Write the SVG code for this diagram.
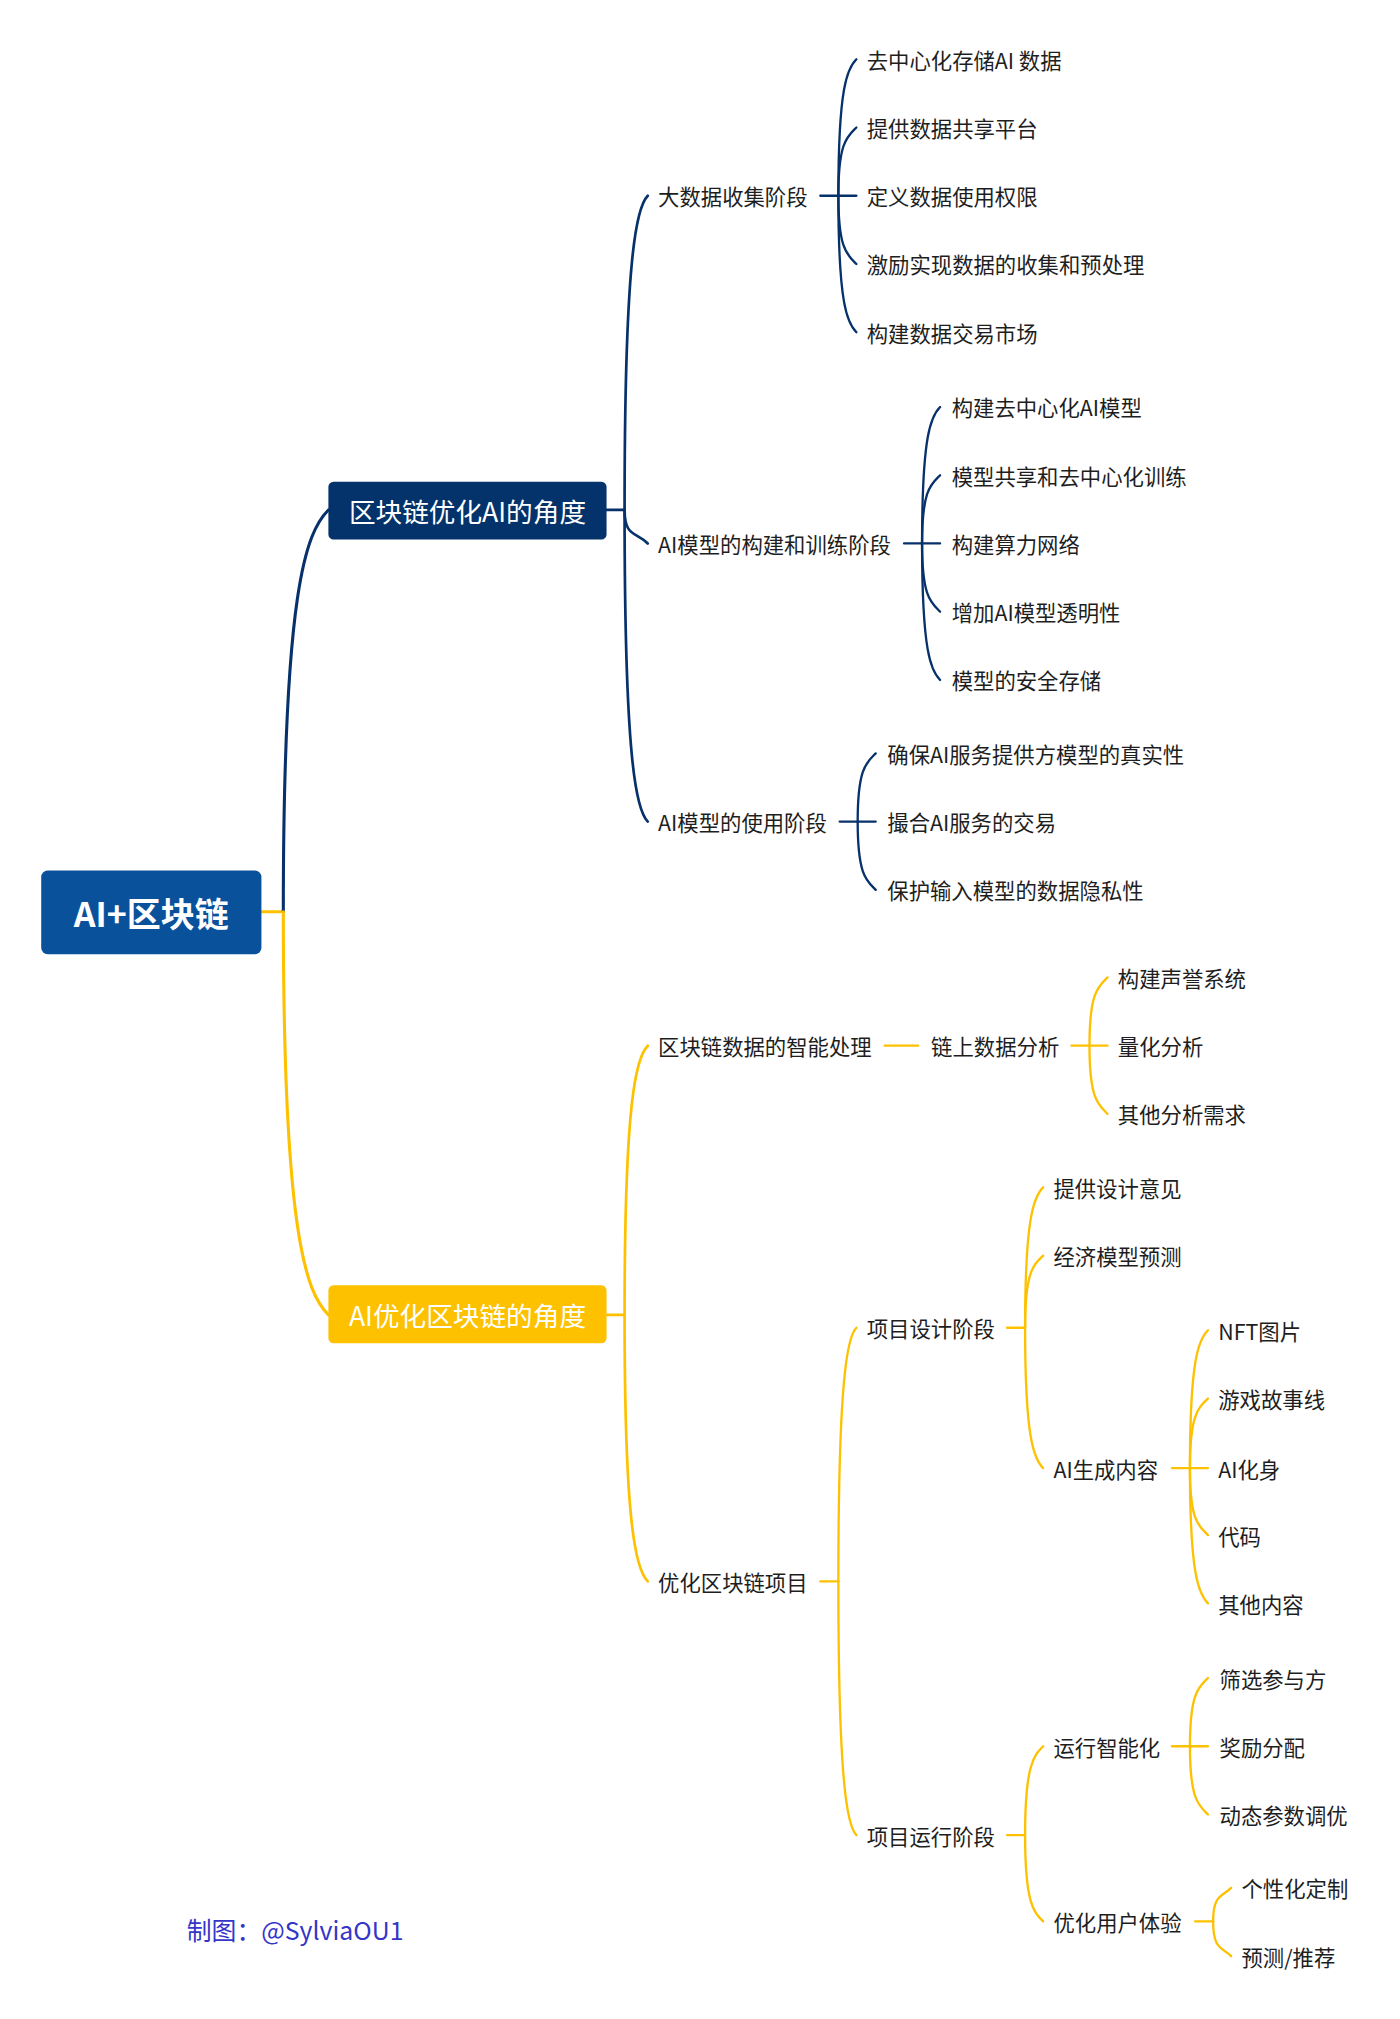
<svg xmlns="http://www.w3.org/2000/svg" width="1400" height="2019" viewBox="0 0 1400 2019">
<style>
.t{font-family:"Noto Sans CJK SC","Noto Sans",sans-serif;font-size:16.6px;fill:#1e1e1e;dominant-baseline:central}
.b{font-family:"Noto Sans CJK SC","Noto Sans",sans-serif;font-size:20.7px;fill:#ffffff;dominant-baseline:central;text-anchor:middle}
.r{font-family:"Noto Sans CJK SC","Noto Sans",sans-serif;font-size:26.4px;font-weight:bold;fill:#ffffff;dominant-baseline:central;text-anchor:middle}
.n{fill:none;stroke:#07316a;stroke-width:1.8;stroke-linecap:round}
.y{fill:none;stroke:#fdc100;stroke-width:1.8;stroke-linecap:round}
.w1{stroke-width:2.4}
.w2{stroke-width:2.1}
.f{font-family:"Noto Sans CJK SC","Noto Sans",sans-serif;font-size:19.3px;fill:#3535c8;dominant-baseline:central}
</style>
<rect width="1400" height="2019" fill="#ffffff"/>
<g transform="scale(1.2878)">
<g id="connectors">
<path class="y w1" d="M203 708 H220"/>
<path class="n w1" d="M220 708 C220 458 237.5 413.5 255 396"/>
<path class="y w1" d="M220 708 C220 958 237.5 1003.5 255 1021"/>
<path class="n w2" d="M471 396 H485"/>
<path class="y w2" d="M471 1021 H485"/>
<path class="n w2" d="M485 396 C485 201 494 161 503 152"/>
<path class="n w2" d="M485 396 C485 417 494 413 503 422"/>
<path class="n w2" d="M485 396 C485 590 494 629 503 638"/>
<path class="y w2" d="M485 1021 C485 854 494 821 503 812"/>
<path class="y w2" d="M485 1021 C485 1187 494 1219 503 1228"/>
<path class="n" d="M651 152 C651 67 658 53 665 46"/>
<path class="n" d="M651 152 C651 110 658 106 665 99"/>
<path class="n" d="M637 152 H665"/>
<path class="n" d="M651 152 C651 194 658 198 665 205"/>
<path class="n" d="M651 152 C651 237 658 251 665 258"/>
<path class="n" d="M716 422 C716 337 723 323 730 316"/>
<path class="n" d="M716 422 C716 380 723 376 730 369"/>
<path class="n" d="M702 422 H730"/>
<path class="n" d="M716 422 C716 464 723 468 730 475"/>
<path class="n" d="M716 422 C716 507 723 521 730 528"/>
<path class="n" d="M666 638 C666 596 673 592 680 585"/>
<path class="n" d="M652 638 H680"/>
<path class="n" d="M666 638 C666 680 673 684 680 691"/>
<path class="y" d="M687 812 H713"/>
<path class="y" d="M846 812 C846 770 853 766 860 759"/>
<path class="y" d="M832 812 H860"/>
<path class="y" d="M846 812 C846 854 853 858 860 865"/>
<path class="y" d="M637 1228 H651"/>
<path class="y" d="M651 1228 C651 1070 658 1038 665 1031"/>
<path class="y" d="M651 1228 C651 1386 658 1418 665 1425"/>
<path class="y" d="M782 1031 H796"/>
<path class="y" d="M796 1031 C796 944 803 929 810 922"/>
<path class="y" d="M796 1031 C796 986 803 982 810 975"/>
<path class="y" d="M796 1031 C796 1118 803 1133 810 1140"/>
<path class="y" d="M924 1140 C924 1054 931 1040 938 1033"/>
<path class="y" d="M924 1140 C924 1097 931 1093 938 1086"/>
<path class="y" d="M910 1140 H938"/>
<path class="y" d="M924 1140 C924 1182 931 1185 938 1192"/>
<path class="y" d="M924 1140 C924 1224 931 1238 938 1245"/>
<path class="y" d="M782 1425 H796"/>
<path class="y" d="M796 1425 C796 1370 803 1363 810 1356"/>
<path class="y" d="M796 1425 C796 1479 803 1485 810 1492"/>
<path class="y" d="M924 1356 C924 1314 931 1310 938 1303"/>
<path class="y" d="M910 1356 H938"/>
<path class="y" d="M924 1356 C924 1398 931 1402 938 1409"/>
<path class="y" d="M928 1492 H942"/>
<path class="y" d="M942 1492 C942 1471 949 1473 956 1466"/>
<path class="y" d="M942 1492 C942 1514 949 1512 956 1519"/>
</g>
<g id="root"><rect x="32" y="676" width="171" height="65" rx="5" fill="#0a519c"/><text class="r" x="117.5" y="708.5">AI+区块链</text></g>
<g id="b1"><rect x="255" y="374" width="216" height="45" rx="4" fill="#03336a"/><text class="b" x="363" y="396.5">区块链优化AI的角度</text></g>
<g id="b2"><rect x="255" y="998" width="216" height="45" rx="4" fill="#fdc100"/><text class="b" x="363" y="1021">AI优化区块链的角度</text></g>
<g id="n1"><text class="t" x="511" y="152">大数据收集阶段</text></g>
<g id="n1a"><text class="t" x="673" y="46">去中心化存储AI 数据</text></g>
<g id="n1b"><text class="t" x="673" y="99">提供数据共享平台</text></g>
<g id="n1c"><text class="t" x="673" y="152">定义数据使用权限</text></g>
<g id="n1d"><text class="t" x="673" y="205">激励实现数据的收集和预处理</text></g>
<g id="n1e"><text class="t" x="673" y="258">构建数据交易市场</text></g>
<g id="n2"><text class="t" x="511" y="422">AI模型的构建和训练阶段</text></g>
<g id="n2a"><text class="t" x="739" y="316">构建去中心化AI模型</text></g>
<g id="n2b"><text class="t" x="739" y="369">模型共享和去中心化训练</text></g>
<g id="n2c"><text class="t" x="739" y="422">构建算力网络</text></g>
<g id="n2d"><text class="t" x="739" y="475">增加AI模型透明性</text></g>
<g id="n2e"><text class="t" x="739" y="528">模型的安全存储</text></g>
<g id="n3"><text class="t" x="511" y="638">AI模型的使用阶段</text></g>
<g id="n3a"><text class="t" x="689" y="585">确保AI服务提供方模型的真实性</text></g>
<g id="n3b"><text class="t" x="689" y="638">撮合AI服务的交易</text></g>
<g id="n3c"><text class="t" x="689" y="691">保护输入模型的数据隐私性</text></g>
<g id="m1"><text class="t" x="511" y="812">区块链数据的智能处理</text></g>
<g id="m1a"><text class="t" x="723" y="812">链上数据分析</text></g>
<g id="m1a1"><text class="t" x="868" y="759">构建声誉系统</text></g>
<g id="m1a2"><text class="t" x="868" y="812">量化分析</text></g>
<g id="m1a3"><text class="t" x="868" y="865">其他分析需求</text></g>
<g id="m2"><text class="t" x="511" y="1228">优化区块链项目</text></g>
<g id="m2a"><text class="t" x="673" y="1031">项目设计阶段</text></g>
<g id="m2a1"><text class="t" x="818" y="922">提供设计意见</text></g>
<g id="m2a2"><text class="t" x="818" y="975">经济模型预测</text></g>
<g id="m2a3"><text class="t" x="818" y="1140">AI生成内容</text></g>
<g id="g1"><text class="t" x="946" y="1033">NFT图片</text></g>
<g id="g2"><text class="t" x="946" y="1086">游戏故事线</text></g>
<g id="g3"><text class="t" x="946" y="1140">AI化身</text></g>
<g id="g4"><text class="t" x="946" y="1192">代码</text></g>
<g id="g5"><text class="t" x="946" y="1245">其他内容</text></g>
<g id="m2b"><text class="t" x="673" y="1425">项目运行阶段</text></g>
<g id="m2b1"><text class="t" x="818" y="1356">运行智能化</text></g>
<g id="h1"><text class="t" x="947" y="1303">筛选参与方</text></g>
<g id="h2"><text class="t" x="947" y="1356">奖励分配</text></g>
<g id="h3"><text class="t" x="947" y="1409">动态参数调优</text></g>
<g id="m2b2"><text class="t" x="818" y="1492">优化用户体验</text></g>
<g id="k1"><text class="t" x="964" y="1466">个性化定制</text></g>
<g id="k2"><text class="t" x="964" y="1519">预测/推荐</text></g>
<g id="credit"><text class="f" x="145" y="1498">制图：@SylviaOU1</text></g>
</g>
</svg>
